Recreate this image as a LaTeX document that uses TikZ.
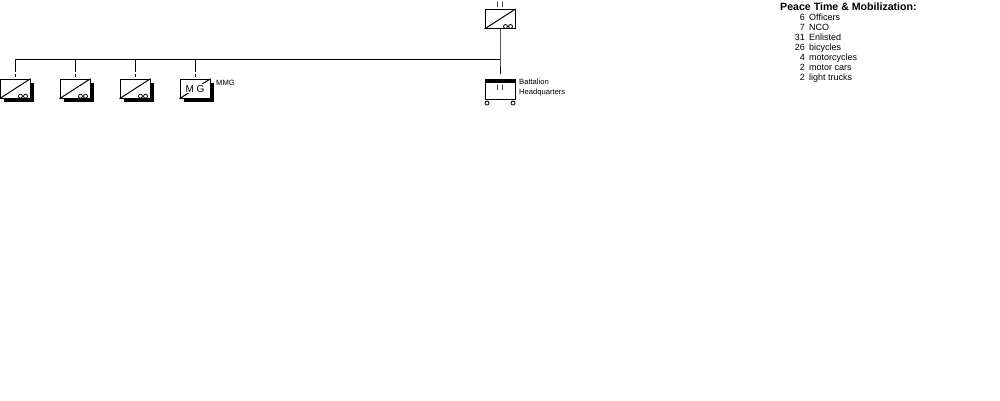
\documentclass[tikz,border=0pt]{standalone}
\usepackage{fontspec}
\setmainfont{Liberation Sans}
\usetikzlibrary{shadows}
\tikzset{
  unitbox/.style = {shape=rectangle, draw, fill=white, line width=1pt, inner sep=0pt,
    minimum width=30pt, minimum height=19pt, font=\fontsize{10}{10}\selectfont},
  shadowbox/.style = {unitbox, drop shadow={shadow xshift=3.5pt, shadow yshift=-3.5pt, fill=black, opacity=1}},
  wheel/.style = {draw, circle, line width=0.8pt, fill=white, minimum size=4pt, inner sep=0pt},
  lab/.style = {inner sep=0pt, anchor=west, align=left, font=\fontsize{7.6}{10}\selectfont},
  sizemark/.style = {inner sep=0pt, font=\fontsize{8}{8}\selectfont},
  strength/.style = {inner sep=0pt, font=\fontsize{9}{10}\selectfont},
  link/.style = {line width=1pt},
  gaplink/.style = {link, dash pattern=on 12.5pt off 2pt on 5pt off 10pt}
}
\begin{document}
\begin{tikzpicture}[x=1pt, y=-1pt]
    \useasboundingbox (0,0) rectangle (1000,400);
    % battalion
    \node[unitbox] (bn) at (500,19) {};
    \node[sizemark] (bnsize) at (500,4.5) {I\,\,I};
    \draw[link] (bn.south west) -- (bn.north east);
    \node[wheel] (bnw1) at ([xshift=-10pt,yshift=2.5pt]bn.south east) {};
    \node[wheel] (bnw2) at ([xshift=-5pt,yshift=2.5pt]bn.south east) {};
    % companies
    \foreach \name/\x in {coa/15, cob/75, coc/135} {
      \node[shadowbox] (\name) at (\x,88.7) {};
      \coordinate (\name top) at (\x,59.5);
      \draw[link] (\name.south west) -- (\name.north east);
      \node[wheel] (\name w1) at ([xshift=-10pt,yshift=2.5pt]\name.south east) {};
      \node[wheel] (\name w2) at ([xshift=-5pt,yshift=2.5pt]\name.south east) {};
      \draw[gaplink] (\name top) -- ([yshift=2pt]\name.north);
    }
    % machine gun company
    \node[shadowbox] (mg) at (195,88.7) {};
    \coordinate (mgtop) at (195,59.5);
    \draw[link] (mg.south west) -- (mg.north east);
    \node[inner sep=1pt, fill=white, font=\fontsize{10}{10}\selectfont] (mgtext) at (mg) {M G};
    \draw[gaplink] (mgtop) -- ([yshift=2pt]mg.north);
    \node[lab] (mglab) at (216,82.5) {MMG};
    % headquarters
    \node[unitbox, minimum height=20.5pt] (hq) at (500,89.3) {};
    \fill (hq.north west) rectangle ([yshift=-4pt]hq.north east);
    \node[sizemark] (hqsize) at (500,87.5) {I\,\,I};
    \node[wheel] (hqw1) at ([xshift=2.5pt,yshift=-3pt]hq.south west) {};
    \node[wheel] (hqw2) at ([xshift=-2.5pt,yshift=-3pt]hq.south east) {};
    \node[lab] (hqlab) at (519,88) {Battalion\\Headquarters};
    % bus
    \coordinate (bus) at (500,59.5);
    \draw[link] (bn.south) -- (bus) -- ([yshift=4.5pt]hq.north);
    \draw[link] (coatop) -- (bus);
    % strengths
    \node[strength, anchor=base west, font=\bfseries\fontsize{10.6}{10}\selectfont] (title) at (780,10) {Peace Time \& Mobilization:};
    \foreach \num/\item [count=\i] in {6/Officers, 7/NCO, 31/Enlisted, 26/bicycles, 4/motorcycles, 2/motor cars, 2/light trucks} {
      \node[strength, anchor=base east] (num\i) at (805,10+10*\i) {\num};
      \node[strength, anchor=base west] (item\i) at (809,10+10*\i) {\item};
    }
\end{tikzpicture}
\end{document}
